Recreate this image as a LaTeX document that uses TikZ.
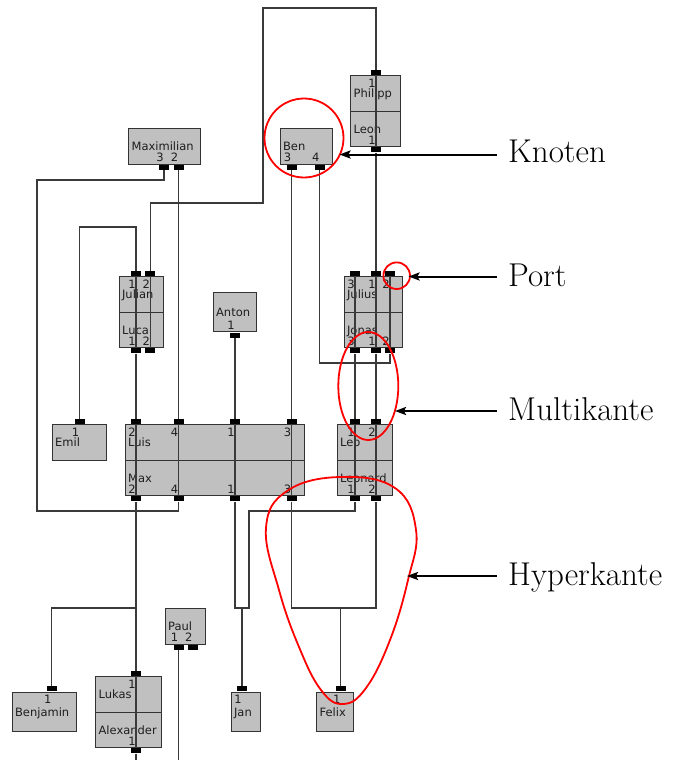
\documentclass[tikz,border=0pt]{standalone}
\usepackage{fontspec}
\usepackage{tikz}
\usetikzlibrary{positioning, arrows.meta, calc}
\newfontfamily\boxfont{DejaVu Sans}
\definecolor{BoxGray} {HTML}{C0C0C0}
\definecolor{Wire}    {HTML}{3A3A3A}
\definecolor{Frame}   {HTML}{333333}
\definecolor{Ink}     {HTML}{1E1E1E}
\definecolor{Hilite}  {HTML}{FF0000}

\tikzset{
  box/.style={draw=Frame, fill=BoxGray, line width=1.2pt, anchor=north west,
    inner xsep=3pt, inner ysep=0pt, minimum height=35.5pt,
    text height=8.5pt, text depth=0pt, align=left, text=Ink,
    font=\boxfont\fontsize{11.5}{13}\selectfont},
  port/.style={fill=black, minimum width=10pt, minimum height=5pt, inner sep=0pt},
  portnum/.style={anchor=base, inner sep=0pt, text=Ink,
    font=\boxfont\fontsize{11.5}{13}\selectfont},
  wire/.style={draw=Wire, line width=1.2pt},
  ring/.style={draw=Hilite, line width=1.8pt},
  callout/.style={-{Stealth[length=11pt, width=8pt, inset=2pt]}, line width=2pt},
  tag/.style={anchor=base west, inner xsep=11pt, inner ysep=0pt,
    font=\fontsize{33}{39}\selectfont}
}

\newcommand\portup[4]{%
  \node[port, anchor=south] (#1) at (#2.north -| #3,0) {};
  \node[portnum] (#1num) at ($(#1.south)+(-4,12)$) {#4};}
\newcommand\portdown[4]{%
  \node[port, anchor=north] (#1) at (#2.south -| #3,0) {};
  \node[portnum] (#1num) at ($(#1.north)+(-4,-3)$) {#4};}

\begin{document}
\begin{tikzpicture}[x=1pt, y=-1pt]
  \useasboundingbox (0,0) rectangle (681,760);

  \node[box, text width=66pt] (maximilian) at (128,128) {Maximilian};
  \node[box, text width=46pt] (ben) at (279.5,128) {Ben};
  \node[box, text width=44pt] (philipp) at (350,75) {Philipp};
  \node[box, text width=44pt] (leon) at (350,110.5) {Leon};
  \node[box, text width=38pt] (julian) at (118.5,276) {Julian};
  \node[box, text width=38pt] (luca) at (118.5,311.5) {Luca};
  \node[box, text width=37pt, minimum height=39.6pt] (anton) at (212.5,291.5) {Anton};
  \node[box, text width=52pt] (julius) at (343.5,276) {Julius};
  \node[box, text width=52pt] (jonas) at (343.5,311.5) {Jonas};
  \node[box, text width=48pt] (emil) at (51.5,424) {Emil};
  \node[box, text width=173pt] (luis) at (124.5,424) {Luis};
  \node[box, text width=173pt] (max) at (124.5,459.5) {Max};
  \node[box, text width=49pt] (leo) at (336.5,424) {Leo};
  \node[box, text width=49pt] (leonard) at (336.5,459.5) {Leonard};
  \node[box, text width=34pt] (paul) at (164.5,608) {Paul};
  \node[box, text width=58pt, minimum height=39.5pt] (benjamin) at (11.5,691.5) {Benjamin};
  \node[box, text width=60pt] (lukas) at (95,676) {Lukas};
  \node[box, text width=60pt] (alexander) at (95,711.5) {Alexander};
  \node[box, text width=23.5pt, minimum height=39.5pt] (jan) at (230.5,691.5) {Jan};
  \node[box, text width=31pt, minimum height=39.5pt] (felix) at (316,691.5) {Felix};

  \portdown{maxiP3}{maximilian}{164}{3}
  \portdown{maxiP2}{maximilian}{178.5}{2}
  \portdown{benP3}{ben}{291.5}{3}
  \portdown{benP4}{ben}{319.7}{4}
  \portup{philippP1}{philipp}{376}{1}
  \portdown{leonP1}{leon}{376}{1}
  \portup{julianP1}{julian}{136}{1}
  \portup{julianP2}{julian}{150.3}{2}
  \portdown{lucaP1}{luca}{136}{1}
  \portdown{lucaP2}{luca}{150.3}{2}
  \portdown{antonP1}{anton}{235}{1}
  \portup{juliusP3}{julius}{355}{3}
  \portup{juliusP1}{julius}{376}{1}
  \portup{juliusP2}{julius}{390}{2}
  \portdown{jonasP3}{jonas}{355}{3}
  \portdown{jonasP1}{jonas}{376}{1}
  \portdown{jonasP2}{jonas}{390}{2}
  \portup{emilP1}{emil}{79.5}{1}
  \portup{luisP2}{luis}{136}{2}
  \portup{luisP4}{luis}{178.5}{4}
  \portup{luisP1}{luis}{235}{1}
  \portup{luisP3}{luis}{291.5}{3}
  \portdown{maxP2}{max}{136}{2}
  \portdown{maxP4}{max}{178.5}{4}
  \portdown{maxP1}{max}{235}{1}
  \portdown{maxP3}{max}{291.5}{3}
  \portup{leoP1}{leo}{355}{1}
  \portup{leoP2}{leo}{376}{2}
  \portdown{leonardP1}{leonard}{355}{1}
  \portdown{leonardP2}{leonard}{376}{2}
  \portdown{paulP1}{paul}{178.5}{1}
  \portdown{paulP2}{paul}{192.7}{2}
  \portup{benjaminP1}{benjamin}{51.7}{1}
  \portup{lukasP1}{lukas}{136}{1}
  \portdown{alexanderP1}{alexander}{136}{1}
  \portup{janP1}{jan}{242}{1}
  \portup{felixP1}{felix}{340.7}{1}

  \coordinate (paulEnd) at (178.5,760);
  \coordinate (alexanderEnd) at (136,760);

  \draw[wire] (philippP1.south) -- (leonP1.north);
  \draw[wire] (julianP1.south) -- (lucaP1.north);
  \draw[wire] (julianP2.south) -- (lucaP2.north);
  \draw[wire] (juliusP3.south) -- (jonasP3.north);
  \draw[wire] (juliusP1.south) -- (jonasP1.north);
  \draw[wire] (juliusP2.south) -- (jonasP2.north);
  \draw[wire] (luisP2.south) -- (maxP2.north);
  \draw[wire] (luisP4.south) -- (maxP4.north);
  \draw[wire] (luisP1.south) -- (maxP1.north);
  \draw[wire] (luisP3.south) -- (maxP3.north);
  \draw[wire] (leoP1.south) -- (leonardP1.north);
  \draw[wire] (leoP2.south) -- (leonardP2.north);
  \draw[wire] (lukasP1.south) -- (alexanderP1.north);

  \draw[wire] (maxiP3.south) |- (37,180) |- (maxP4 |- 0,511) -- (maxP4.south);
  \draw[wire] (maxiP2.south) -- (luisP4.north);
  \draw[wire] (julianP1.north) |- (emilP1 |- 0,227) -- (emilP1.north);
  \draw[wire] (julianP2.north) |- (263,203) |- (philippP1 |- 0,8) -- (philippP1.north);
  \draw[wire] (lucaP1.south) -- (luisP2.north);
  \draw[wire] (antonP1.south) -- (luisP1.north);
  \draw[wire] (benP3.south) -- (luisP3.north);
  \draw[wire] (benP4.south) |- (jonasP2 |- 0,363) -- (jonasP2.south);
  \draw[wire] (leonP1.south) -- (juliusP1.north);
  \draw[wire] (jonasP3.south) -- (leoP1.north);
  \draw[wire] (jonasP1.south) -- (leoP2.north);
  \draw[wire] (maxP2.south) -- (lukasP1.north);
  \draw[wire] (maxP2 |- 0,608) -| (benjaminP1.north);
  \draw[wire] (maxP1.south) |- (249,608) |- (leonardP1 |- 0,511) -- (leonardP1.south);
  \draw[wire] (janP1.north) -- (janP1 |- 0,608);
  \draw[wire] (maxP3.south) |- (leonardP2 |- 0,608) -- (leonardP2.south);
  \draw[wire] (felixP1.north) -- (felixP1 |- 0,608);
  \draw[wire] (paulP1.south) -- (paulEnd);
  \draw[wire] (alexanderP1.south) -- (alexanderEnd);

  \draw[ring] (304,138) circle (39.5pt);
  \draw[ring] (396.7,275.7) circle (13.3pt);
  \draw[ring] (368.3,386) ellipse (30pt and 54pt);
  \draw[ring] plot[smooth cycle, tension=0.7] coordinates {(266,528) (287,491)
    (340,477) (395,488) (416,530) (408,580) (390,640) (366,688) (343,704)
    (321,690) (299,647) (279,590)};

  \coordinate (knotenTip) at (339.5,154.5);
  \coordinate (portTip) at (408.5,276.5);
  \coordinate (multiTip) at (395,411);
  \coordinate (hyperTip) at (407,576);
  \node[tag] (knoten) at (497,162) {Knoten};
  \node[tag] (port) at (497,286.5) {Port};
  \node[tag] (multi) at (497,420.5) {Multikante};
  \node[tag] (hyper) at (497,585) {Hyperkante};
  \draw[callout] (knoten.west |- knotenTip) -- (knotenTip);
  \draw[callout] (port.west |- portTip) -- (portTip);
  \draw[callout] (multi.west |- multiTip) -- (multiTip);
  \draw[callout] (hyper.west |- hyperTip) -- (hyperTip);
\end{tikzpicture}
\end{document}
